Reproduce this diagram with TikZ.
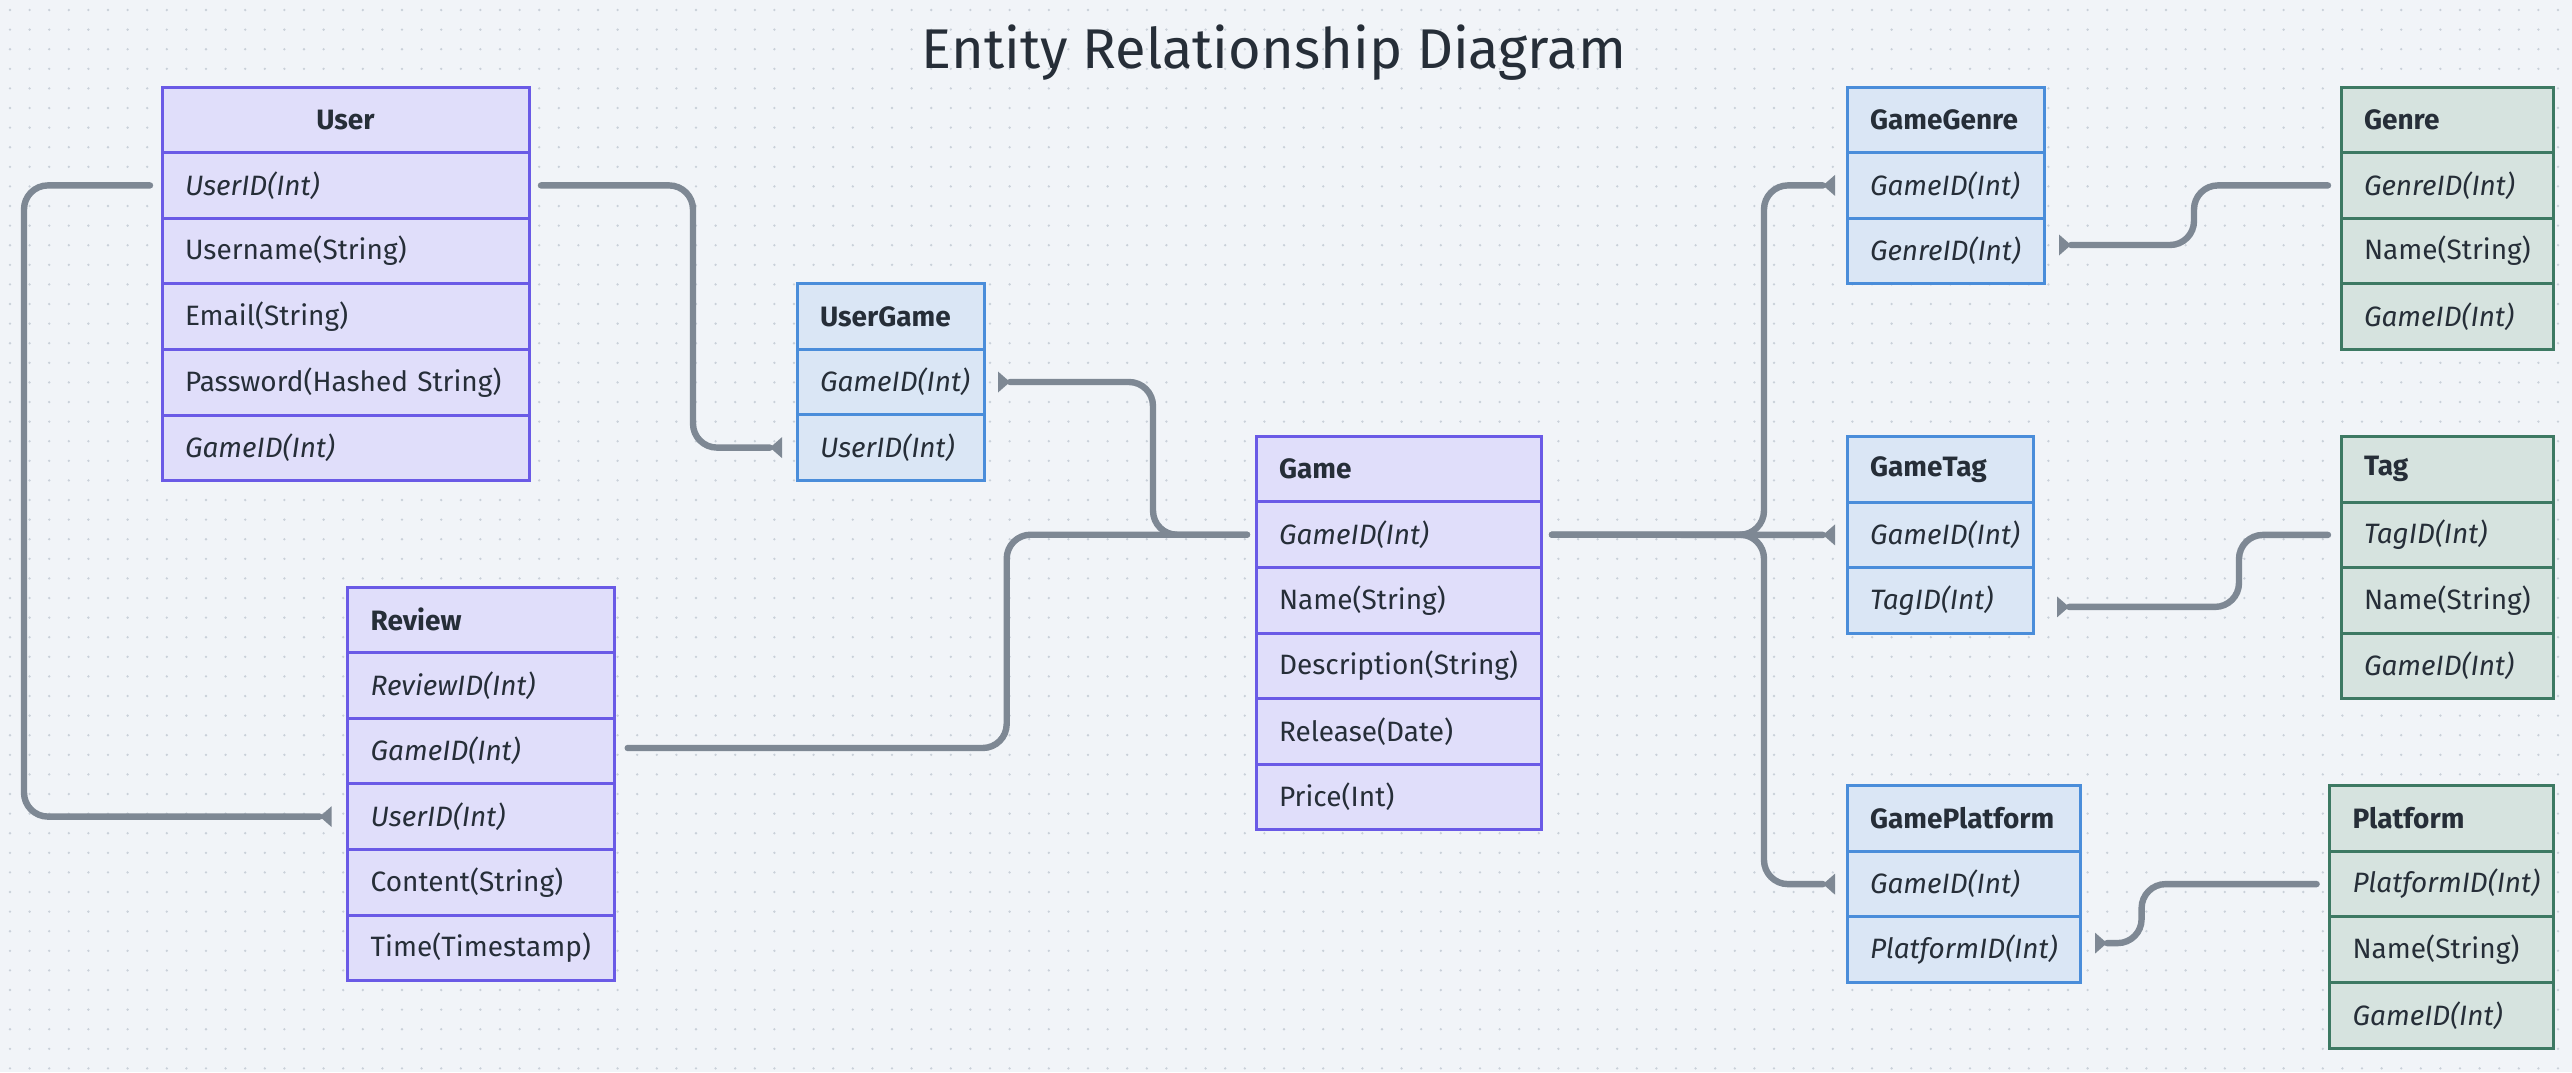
\documentclass[tikz,border=0pt]{standalone}
\usepackage{fontspec}
\setmainfont{Fira Sans}
\usepackage{tikz}
\usetikzlibrary{positioning, arrows.meta}
\definecolor{canvas}{HTML}{F1F4F8}
\definecolor{griddot}{HTML}{C9D0D9}
\definecolor{ink}{HTML}{262E38}
\definecolor{wire}{HTML}{7E8894}
\definecolor{purpleline}{HTML}{6A5AE6}
\definecolor{purplefill}{HTML}{E0DEFA}
\definecolor{blueline}{HTML}{4A8DDA}
\definecolor{bluefill}{HTML}{DAE6F5}
\definecolor{greenline}{HTML}{3D7963}
\definecolor{greenfill}{HTML}{D6E3DF}
\newcommand{\rowfont}{\fontsize{14}{16}\selectfont}
\tikzstyle{field}=[%
      rectangle, draw, line width=1.5pt, outer sep=0pt, inner xsep=11.5pt, inner ysep=0pt,
      minimum height=32.8pt, align=left, text=ink, font=\rowfont, anchor=north west
]
\tikzstyle{head}=[field, font=\rowfont\bfseries]
\tikzstyle{key}=[field, font=\rowfont\itshape]
\tikzstyle{ent}=[draw=purpleline, fill=purplefill]
\tikzstyle{jn}=[draw=blueline, fill=bluefill]
\tikzstyle{lk}=[draw=greenline, fill=greenfill]
\tikzstyle{link}=[draw=wire, line width=3.2pt, line cap=round, rounded corners=12pt]

\begin{document}
\begin{tikzpicture}[x=0.5pt, y=-0.5pt,
    usr/.style={ent, text width=160.5pt},
    ugm/.style={jn, text width=70.5pt},
    rvw/.style={ent, text width=110.5pt},
    gam/.style={ent, text width=119.5pt},
    ggn/.style={jn, text width=75.5pt},
    gen/.style={lk, text width=83pt},
    gtg/.style={jn, text width=70pt},
    tg/.style={lk, text width=83pt},
    gpf/.style={jn, text width=93.5pt},
    pf/.style={lk, text width=89pt},
    tip/.style={link, -{Triangle[reversed, length=6pt, width=10.5pt, line width=0pt]}},
    tipback/.style={link, {Triangle[reversed, length=6pt, width=10.5pt, line width=0pt]}-}
  ]
    \useasboundingbox (0,0) rectangle (2572,1072);
    \fill[canvas] (0,0) rectangle (2572,1072);
    \foreach \r in {0,...,54}
      \draw[griddot, line width=1.3pt, line cap=round, dash pattern=on 0pt off 9.8pt]
        (10,{10+19.6*\r}) -- (2572,{10+19.6*\r});

    \node[anchor=base, text=ink, font=\fontsize{28}{32}\selectfont] (title) at (1274,68) {Entity Relationship Diagram};

    % User
    \node[head, usr, align=center] (user-h) at (162,87) {User};
    \node[key, usr, below=0pt of user-h] (user-uid) {UserID(Int)};
    \node[field, usr, below=0pt of user-uid] (user-name) {Username(String)};
    \node[field, usr, below=0pt of user-name] (user-mail) {Email(String)};
    \node[field, usr, below=0pt of user-mail] (user-pw) {Password(Hashed String)};
    \node[key, usr, below=0pt of user-pw] (user-gid) {GameID(Int)};

    % UserGame
    \node[head, ugm] (ug-h) at (797,283.6) {UserGame};
    \node[key, ugm, below=0pt of ug-h] (ug-gid) {GameID(Int)};
    \node[key, ugm, below=0pt of ug-gid] (ug-uid) {UserID(Int)};

    % Review
    \node[head, rvw] (rv-h) at (347.7,587) {Review};
    \node[key, rvw, below=0pt of rv-h] (rv-rid) {ReviewID(Int)};
    \node[key, rvw, below=0pt of rv-rid] (rv-gid) {GameID(Int)};
    \node[key, rvw, below=0pt of rv-gid] (rv-uid) {UserID(Int)};
    \node[field, rvw, below=0pt of rv-uid] (rv-text) {Content(String)};
    \node[field, rvw, below=0pt of rv-text] (rv-time) {Time(Timestamp)};

    % Game
    \node[head, gam] (game-h) at (1256,436.3) {Game};
    \node[key, gam, below=0pt of game-h] (game-gid) {GameID(Int)};
    \node[field, gam, below=0pt of game-gid] (game-name) {Name(String)};
    \node[field, gam, below=0pt of game-name] (game-desc) {Description(String)};
    \node[field, gam, below=0pt of game-desc] (game-rel) {Release(Date)};
    \node[field, gam, below=0pt of game-rel] (game-price) {Price(Int)};

    % GameGenre and Genre
    \node[head, ggn] (gg-h) at (1847,87) {GameGenre};
    \node[key, ggn, below=0pt of gg-h] (gg-gid) {GameID(Int)};
    \node[key, ggn, below=0pt of gg-gid] (gg-genre) {GenreID(Int)};
    \node[head, gen] (ge-h) at (2341,87) {Genre};
    \node[key, gen, below=0pt of ge-h] (ge-id) {GenreID(Int)};
    \node[field, gen, below=0pt of ge-id] (ge-name) {Name(String)};
    \node[key, gen, below=0pt of ge-name] (ge-game) {GameID(Int)};

    % GameTag and Tag
    \node[head, gtg] (gt-h) at (1847,436.5) {GameTag};
    \node[key, gtg, below=0pt of gt-h] (gt-gid) {GameID(Int)};
    \node[key, gtg, below=0pt of gt-gid] (gt-tid) {TagID(Int)};
    \node[head, tg] (tag-h) at (2341,436.5) {Tag};
    \node[key, tg, below=0pt of tag-h] (tag-id) {TagID(Int)};
    \node[field, tg, below=0pt of tag-id] (tag-name) {Name(String)};
    \node[key, tg, below=0pt of tag-name] (tag-game) {GameID(Int)};

    % GamePlatform and Platform
    \node[head, gpf] (gp-h) at (1847,785.7) {GamePlatform};
    \node[key, gpf, below=0pt of gp-h] (gp-gid) {GameID(Int)};
    \node[key, gpf, below=0pt of gp-gid] (gp-pid) {PlatformID(Int)};
    \node[head, pf] (pf-h) at (2329.6,785.7) {Platform};
    \node[key, pf, below=0pt of pf-h] (pf-id) {PlatformID(Int)};
    \node[field, pf, below=0pt of pf-id] (pf-name) {Name(String)};
    \node[key, pf, below=0pt of pf-name] (pf-game) {GameID(Int)};

    % relations
    \draw[tip] ([xshift=6pt]user-uid.east) -- ++(76pt,0) |- ([xshift=-7.5pt]ug-uid.west);
    \draw[tip] ([xshift=-6pt]user-uid.west) -- ++(-63pt,0) |- ([xshift=-8pt]rv-uid.west);
    \draw[tipback] ([xshift=7pt]ug-gid.east) -- ++(77.5pt,0) |- ([xshift=-4.5pt]game-gid.west);
    \draw[link] ([xshift=6.5pt, yshift=1.5pt]rv-gid.east) -- ++(189.5pt,0) |- ([xshift=-4.5pt]game-gid.west);
    \draw[tip] ([xshift=5.5pt]game-gid.east) -- ++(106pt,0) |- ([xshift=-6pt]gg-gid.west);
    \draw[tip] ([xshift=5.5pt]game-gid.east) -- ([xshift=-6pt]gt-gid.west);
    \draw[tip] ([xshift=5.5pt]game-gid.east) -- ++(106pt,0) |- ([xshift=-6pt]gp-gid.west);
    \draw[tip] ([xshift=-6.5pt]ge-id.west) -- ++(-67pt,0) |- ([xshift=7.5pt, yshift=3pt]gg-genre.east);
    \draw[tip] ([xshift=-6.5pt]tag-id.west) -- ++(-44.5pt,0) |- ([xshift=12pt, yshift=-3.2pt]gt-tid.east);
    \draw[tip] ([xshift=-6.5pt]pf-id.west) -- ++(-87.5pt,0) |- ([xshift=7.5pt, yshift=3.3pt]gp-pid.east);
\end{tikzpicture}
\end{document}
